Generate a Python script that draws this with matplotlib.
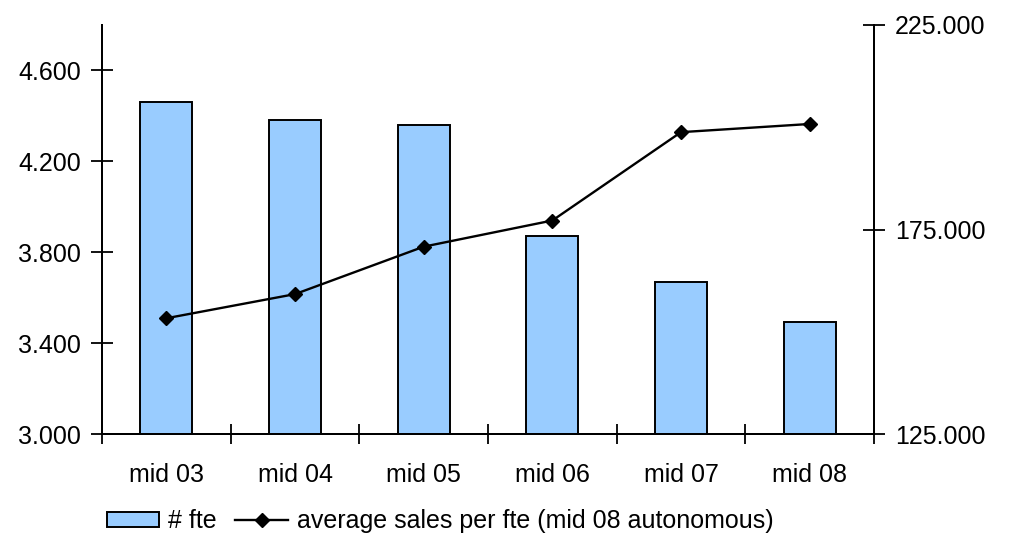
import matplotlib
matplotlib.use("Agg")
import matplotlib.pyplot as plt
import numpy as np
from matplotlib.ticker import FuncFormatter, FixedLocator

plt.rcParams["font.family"] = ["Liberation Sans", "DejaVu Sans"]

periods = ["mid 03", "mid 04", "mid 05", "mid 06", "mid 07", "mid 08"]
fte = [4463, 4382, 4360, 3870, 3669, 3493]
sales_per_fte = [153300, 159200, 170800, 177200, 198800, 200800]

BAR_COLOR = "#99CCFF"
FS = 18


def dotted_thousands(x, pos=None):
    return f"{x:,.0f}".replace(",", ".")


fig = plt.figure(figsize=(10.09, 5.38), dpi=100)
ax = fig.add_axes([102 / 1009, 1 - 434 / 538, 772 / 1009, 409 / 538])
ax2 = ax.twinx()

x = np.arange(len(periods))
bars = ax.bar(x, fte, width=0.405, color=BAR_COLOR, edgecolor="black",
              linewidth=1.4, label="# fte", zorder=2)
line, = ax2.plot(x, sales_per_fte, color="black", linewidth=1.7, marker="D",
                 markersize=7, label="average sales per fte (mid 08 autonomous)")

ax.set_xlim(-0.5, len(periods) - 0.5)
ax.set_ylim(3000, 4800)
ax2.set_ylim(125000, 225000)

# category boundaries get the tick marks, centers get the labels
ax.xaxis.set_major_locator(FixedLocator(np.arange(-0.5, len(periods), 1.0)))
ax.xaxis.set_major_formatter(FuncFormatter(lambda v, p: ""))
ax.xaxis.set_minor_locator(FixedLocator(x))
ax.set_xticklabels(periods, minor=True)
ax.tick_params(axis="x", which="major", direction="inout", length=15, width=1.3)
ax.tick_params(axis="x", which="minor", length=0, pad=21, labelsize=FS)

ax.set_yticks([3000, 3400, 3800, 4200, 4600])
ax.yaxis.set_major_formatter(FuncFormatter(dotted_thousands))
ax.tick_params(axis="y", direction="inout", length=16, width=1.3, pad=7, labelsize=FS)

ax2.set_yticks([125000, 175000, 225000])
ax2.yaxis.set_major_formatter(FuncFormatter(dotted_thousands))
ax2.tick_params(axis="y", direction="inout", length=16, width=1.3, pad=7, labelsize=FS)

for a in (ax, ax2):
    a.spines["top"].set_visible(False)
    for s in ("left", "right", "bottom"):
        a.spines[s].set_linewidth(1.4)

fig.legend(handles=[bars, line], loc="center", bbox_to_anchor=(440 / 1009, 1 - 521 / 538),
           ncol=2, frameon=False, fontsize=FS, handlelength=2.1, handleheight=0.55,
           handletextpad=0.35, columnspacing=0.75, borderpad=0)

fig.savefig("out.png", dpi=100)
